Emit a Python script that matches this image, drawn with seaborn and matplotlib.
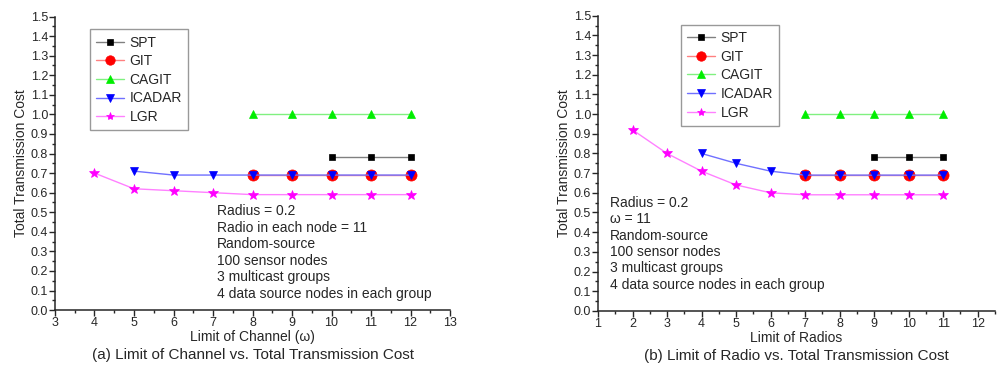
import numpy as np
import pandas as pd
import seaborn as sns
import matplotlib
matplotlib.use("Agg")
from matplotlib import pyplot as plt
from matplotlib.ticker import MultipleLocator

# ---- data (a): limit of channel ----
a_spt_x = [10, 11, 12]
a_spt_y = [0.78, 0.78, 0.78]
a_git_x = [8, 9, 10, 11, 12]
a_git_y = [0.69, 0.69, 0.69, 0.69, 0.69]
a_cagit_x = [8, 9, 10, 11, 12]
a_cagit_y = [1.0, 1.0, 1.0, 1.0, 1.0]
a_icadar_x = [5, 6, 7, 8, 9, 10, 11, 12]
a_icadar_y = [0.71, 0.69, 0.69, 0.69, 0.69, 0.69, 0.69, 0.69]
a_lgr_x = [4, 5, 6, 7, 8, 9, 10, 11, 12]
a_lgr_y = [0.70, 0.62, 0.61, 0.60, 0.59, 0.59, 0.59, 0.59, 0.59]

# ---- data (b): limit of radios ----
b_spt_x = [9, 10, 11]
b_spt_y = [0.78, 0.78, 0.78]
b_git_x = [7, 8, 9, 10, 11]
b_git_y = [0.69, 0.69, 0.69, 0.69, 0.69]
b_cagit_x = [7, 8, 9, 10, 11]
b_cagit_y = [1.0, 1.0, 1.0, 1.0, 1.0]
b_icadar_x = [4, 5, 6, 7, 8, 9, 10, 11]
b_icadar_y = [0.80, 0.75, 0.71, 0.69, 0.69, 0.69, 0.69, 0.69]
b_lgr_x = [2, 3, 4, 5, 6, 7, 8, 9, 10, 11]
b_lgr_y = [0.92, 0.80, 0.71, 0.64, 0.60, 0.59, 0.59, 0.59, 0.59, 0.59]

series_names = ['SPT', 'GIT', 'CAGIT', 'ICADAR', 'LGR']
a_notes = ['Radius = 0.2', 'Radio in each node = 11', 'Random-source',
           '100 sensor nodes', '3 multicast groups', '4 data source nodes in each group']
b_notes = ['Radius = 0.2', '\u03c9 = 11', 'Random-source',
           '100 sensor nodes', '3 multicast groups', '4 data source nodes in each group']

# marker colour, line colour, marker, marker size
STYLES = {
    'SPT': ('#000000', '#808080', 's', 4.5),
    'GIT': ('#ff0000', '#ff8080', 'o', 8),
    'CAGIT': ('#00ee00', '#80f080', '^', 6),
    'ICADAR': ('#0000ff', '#7070ff', 'v', 6),
    'LGR': ('#ff00ff', '#ff80ff', '*', 7),
}

sns.set_style("ticks")
plt.rcParams['font.family'] = ['Liberation Sans', 'DejaVu Sans']


def draw_panel(ax, data, notes, note_pos, xlim, xticks, xlabel, caption, legend_pos):
    for name, (xs, ys) in zip(series_names, data):
        mcol, lcol, mk, ms = STYLES[name]
        df = pd.DataFrame({'x': xs, 'y': ys})
        sns.lineplot(data=df, x='x', y='y', ax=ax, color=lcol, linewidth=1.0,
                     marker=mk, markersize=ms, markerfacecolor=mcol,
                     markeredgecolor=mcol, markeredgewidth=0.5, label=name)
    ax.set_xlim(*xlim)
    ax.set_ylim(0, 1.5)
    ax.set_xticks(xticks)
    ax.set_yticks(np.arange(0, 1.51, 0.1))
    ax.set_yticklabels(['%.1f' % v for v in np.arange(0, 1.51, 0.1)])
    ax.xaxis.set_minor_locator(MultipleLocator(0.5))
    ax.yaxis.set_minor_locator(MultipleLocator(0.05))
    ax.tick_params(which='major', direction='out', length=4, width=1, labelsize=9, pad=1)
    ax.tick_params(which='minor', direction='out', length=2, width=1)
    for s in ['left', 'bottom']:
        ax.spines[s].set_linewidth(1.1)
    sns.despine(ax=ax)
    ax.set_xlabel(xlabel, fontsize=10, labelpad=1)
    ax.set_ylabel('Total Transmission Cost', fontsize=10, labelpad=2)
    ax.text(0.5, -0.128, caption, transform=ax.transAxes, ha='center', va='top', fontsize=11)
    ax.text(note_pos[0], note_pos[1], '\n'.join(notes), transform=ax.transAxes,
            ha='left', va='top', fontsize=10, linespacing=1.22)
    leg = ax.legend(loc='upper left', bbox_to_anchor=legend_pos, fontsize=10,
                    frameon=True, fancybox=False, handlelength=2.0, borderpad=0.45,
                    labelspacing=0.33, handletextpad=0.4, borderaxespad=0,
                    markerscale=0.85)
    leg.get_frame().set_edgecolor('#808080')
    leg.get_frame().set_linewidth(1.0)


fig = plt.figure(figsize=(10, 3.67), dpi=100)
ax1 = fig.add_axes([0.055, 0.155, 0.395, 0.80])
ax2 = fig.add_axes([0.598, 0.153, 0.397, 0.804])

draw_panel(ax1,
           [(a_spt_x, a_spt_y), (a_git_x, a_git_y), (a_cagit_x, a_cagit_y),
            (a_icadar_x, a_icadar_y), (a_lgr_x, a_lgr_y)],
           a_notes, (0.41, 0.36), (3, 13), range(3, 14),
           'Limit of Channel (\u03c9)', '(a) Limit of Channel vs. Total Transmission Cost',
           (0.089, 0.956))

draw_panel(ax2,
           [(b_spt_x, b_spt_y), (b_git_x, b_git_y), (b_cagit_x, b_cagit_y),
            (b_icadar_x, b_icadar_y), (b_lgr_x, b_lgr_y)],
           b_notes, (0.03, 0.39), (1, 12.5), range(1, 13),
           'Limit of Radios', '(b) Limit of Radio vs. Total Transmission Cost',
           (0.209, 0.969))

fig.savefig('out.png', dpi=100)
